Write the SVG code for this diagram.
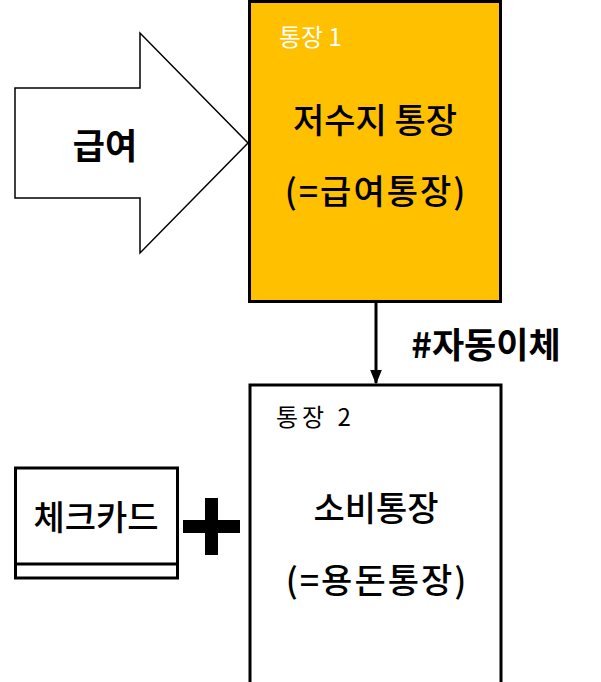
<svg xmlns="http://www.w3.org/2000/svg" width="601" height="682" viewBox="0 0 601 682">
<defs>
<marker id="ah" viewBox="0 0 10 10" refX="9" refY="5" markerWidth="5" markerHeight="5" orient="auto" markerUnits="strokeWidth"><path d="M0,1 L10,5 L0,9 z" fill="#000"/></marker>
<style>
text{font-family:"Noto Sans CJK KR","Noto Sans",sans-serif;fill:#000;text-anchor:middle}
.b{stroke:#000;stroke-width:3}
.t{font-size:34px;font-weight:500}
.p{font-size:34px;font-weight:500;letter-spacing:2px}
.s{font-size:24px;text-anchor:start}
.h{font-size:35px;font-weight:bold}
</style>
</defs>
<rect width="601" height="682" fill="#fff"/>
<g id="salary">
<path d="M15,88 L140,88 L140,33 L248,143 L140,253 L140,198 L15,198 Z" fill="#fff" stroke="#000" stroke-width="1.5"/>
<text class="h" x="105" y="159">급여</text>
</g>
<g id="account1">
<rect class="b" x="249.5" y="1.5" width="251" height="300" fill="#FFC000"/>
<text class="s" x="279" y="46" style="fill:#fff">통장 1</text>
<text class="t" x="375" y="133">저수지 통장</text>
<text class="p" x="376" y="204">(=급여통장)</text>
</g>
<g id="account2">
<rect class="b" x="250" y="385" width="251" height="310" fill="#fff"/>
<text class="s" x="276" y="426" style="letter-spacing:4px">통장 2</text>
<text class="t" x="376" y="521">소비통장</text>
<text class="p" x="377" y="593">(=용돈통장)</text>
</g>
<g id="card">
<rect class="b" x="15.5" y="468" width="162" height="110" fill="#fff"/>
<line class="b" x1="15.5" y1="564" x2="177.5" y2="564"/>
<text class="t" x="96" y="530">체크카드</text>
</g>
<g id="plus">
<rect x="183" y="520" width="57" height="13" fill="#000"/>
<rect x="205" y="498" width="13" height="57" fill="#000"/>
</g>
<g id="connectors">
<line x1="376" y1="303" x2="376" y2="383" stroke="#000" stroke-width="3" marker-end="url(#ah)"/>
<text class="h" x="486" y="358">#자동이체</text>
</g>
</svg>
